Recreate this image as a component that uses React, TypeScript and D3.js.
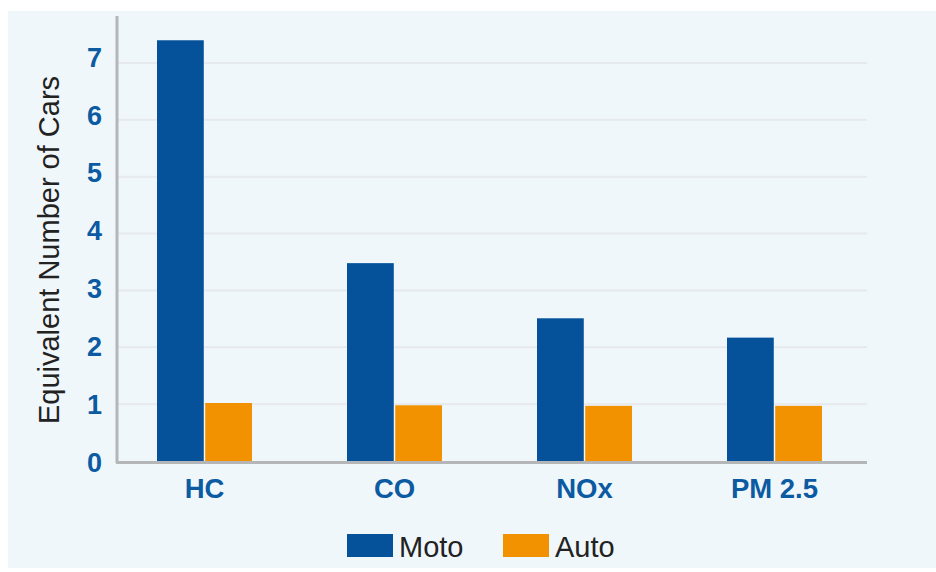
import React, { useEffect } from "react";
import * as d3 from "d3";

const categories = ["HC", "CO", "NOx", "PM 2.5"];
const series = ["Moto", "Auto"];
const motoValues = [7.4, 3.48, 2.51, 2.17];
const autoValues = [1.02, 0.98, 0.97, 0.97];
const yTicks = [0, 1, 2, 3, 4, 5, 6, 7];
const colors = ["#05529B", "#F39200"];

const W = 936;
const H = 572;

export default function App() {
  useEffect(() => {
    document.body.style.margin = "0";
  }, []);

  const x0 = d3.scaleBand<string>().domain(categories).range([109.5, 869.5]).paddingInner(0.5).paddingOuter(0.25);
  const x1 = d3.scaleBand<string>().domain(series).range([0, x0.bandwidth()]).paddingInner(0.03);
  const y = d3.scaleLinear().domain([0, 7]).range([461, 63]);
  const yLab = d3.scaleLinear().domain([0, 7]).range([462, 57]);
  const values = [motoValues, autoValues];
  const font = "Liberation Sans, Arial, sans-serif";

  return (
    <svg width={W} height={H} style={{ display: "block" }} fontFamily={font}>
      <rect x={8} y={11} width={928} height={557} fill="#F0F7FB" />
      {yTicks.filter((t) => t > 0).map((t) => (
        <line key={t} x1={118} x2={867} y1={y(t)} y2={y(t)} stroke="#E6E9ED" strokeWidth={2} />
      ))}
      {categories.map((c, ci) =>
        series.map((s, si) => (
          <rect
            key={c + s}
            x={(x0(c) as number) + (x1(s) as number)}
            y={y(values[si][ci])}
            width={x1.bandwidth()}
            height={y(0) - y(values[si][ci])}
            fill={colors[si]}
          />
        ))
      )}
      <line x1={117} x2={117} y1={16} y2={463} stroke="#B4B6B8" strokeWidth={3} />
      <line x1={116} x2={867} y1={462.5} y2={462.5} stroke="#B4B6B8" strokeWidth={3} />
      {yTicks.map((t) => (
        <text key={t} x={102} y={yLab(t)} dy="0.36em" textAnchor="end" fontSize={27} fontWeight="bold" fill="#0B5AA2">
          {t}
        </text>
      ))}
      {categories.map((c) => (
        <text key={c} x={(x0(c) as number) + x0.bandwidth() / 2} y={498} textAnchor="middle" fontSize={27.5} fontWeight="bold" fill="#0B5AA2">
          {c}
        </text>
      ))}
      <text transform="translate(59,250) rotate(-90)" textAnchor="middle" fontSize={29} fill="#222">
        Equivalent Number of Cars
      </text>
      {series.map((s, i) => (
        <g key={s} transform={`translate(${i === 0 ? 347 : 503},534)`}>
          <rect width={46} height={23} fill={colors[i]} />
          <text x={52} y={22.5} fontSize={29} fill="#222">{s}</text>
        </g>
      ))}
    </svg>
  );
}
